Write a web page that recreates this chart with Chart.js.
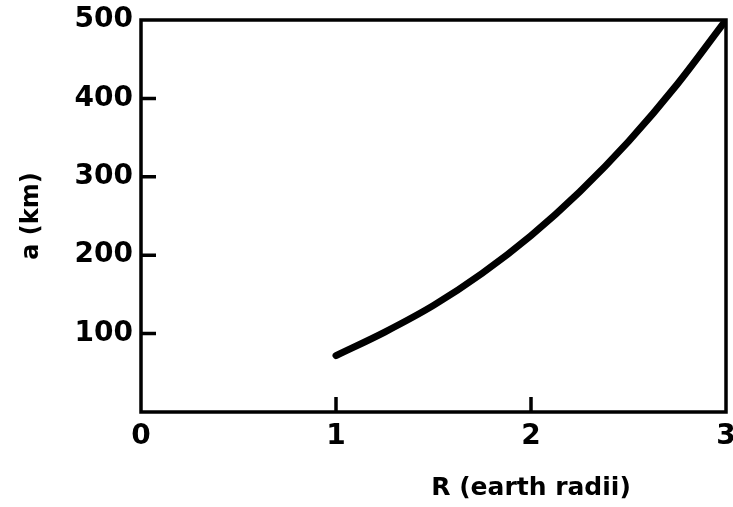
<!DOCTYPE html>
<html>
<head>
<meta charset="utf-8">
<title>a vs R</title>
<script src="https://cdn.jsdelivr.net/npm/chart.js@4/dist/chart.umd.min.js"></script>
<style>
  html, body { margin: 0; padding: 0; background: #fff; }
  #wrap { width: 733px; height: 507px; }
</style>
</head>
<body>
<div id="wrap"><canvas id="myChart"></canvas></div>
<script>
// curve read in earth radii against km
var radius = [1.0, 1.25, 1.5, 1.75, 2.0, 2.25, 2.5, 2.75, 3.0];
var sizeKm = [72, 102, 136, 177, 225, 281, 345, 418, 500];

var xTicks = [0, 1, 2, 3];
var yTicks = [0, 100, 200, 300, 400, 500];
var xTitle = 'R (earth radii)';
var yTitle = 'a (km)';

var ink = '#000';
var fontName = 'DejaVu Sans';

// box round the plot area, inward tick marks, x title under the "2"
var frame = {
    id: 'frame',
    beforeDatasetsDraw: function (chart) {
        var c = chart.ctx;
        var a = chart.chartArea;
        var x = chart.scales.x;
        var y = chart.scales.y;
        c.save();
        c.strokeStyle = ink;
        c.lineWidth = 3.5;
        c.strokeRect(a.left, a.top, a.right - a.left, a.bottom - a.top);
        c.beginPath();
        yTicks.slice(1, -1).forEach(function (v) {
            var py = y.getPixelForValue(v);
            c.moveTo(a.left, py);
            c.lineTo(a.left + 15, py);
        });
        xTicks.slice(1, -1).forEach(function (v) {
            var px = x.getPixelForValue(v);
            c.moveTo(px, a.bottom);
            c.lineTo(px, a.bottom - 15);
        });
        c.stroke();
        c.font = 'bold 25px "' + fontName + '"';
        c.fillStyle = ink;
        c.textAlign = 'center';
        c.textBaseline = 'middle';
        c.fillText(xTitle, x.getPixelForValue(2), 488);
        c.restore();
    }
};

var ctx = document.getElementById('myChart');
var myChart = new Chart(ctx, {
    type: 'line',
    data: {
        datasets: [{
            data: radius.map(function (r, i) { return { x: r, y: sizeKm[i] }; }),
            borderColor: ink,
            borderWidth: 7,
            borderCapStyle: 'round',
            pointRadius: 0,
            cubicInterpolationMode: 'monotone',
            fill: false
        }]
    },
    options: {
        responsive: true,
        maintainAspectRatio: false,
        animation: false,
        layout: { padding: { top: 20, right: 7, left: 0, bottom: 0 } },
        plugins: {
            legend: { display: false },
            tooltip: { enabled: false }
        },
        scales: {
            x: {
                type: 'linear',
                min: 0,
                max: 3,
                afterBuildTicks: function (s) {
                    s.ticks = xTicks.map(function (v) { return { value: v }; });
                },
                afterFit: function (s) {
                    s.height = 95;
                    s.paddingLeft = 0;
                    s.paddingRight = 0;
                },
                grid: { display: false, drawTicks: false },
                border: { display: false },
                ticks: {
                    color: ink,
                    padding: 8,
                    maxRotation: 0,
                    autoSkip: false,
                    font: { family: fontName, weight: 'bold', size: 28 }
                }
            },
            y: {
                min: 0,
                max: 500,
                afterBuildTicks: function (s) {
                    s.ticks = yTicks.map(function (v) { return { value: v }; });
                },
                afterFit: function (s) {
                    s.width = 141;
                    s.paddingTop = 0;
                    s.paddingBottom = 0;
                },
                grid: { display: false, drawTicks: false },
                border: { display: false },
                ticks: {
                    color: ink,
                    padding: 8,
                    autoSkip: false,
                    font: { family: fontName, weight: 'bold', size: 28 },
                    callback: function (v) { return v === 0 ? '' : v; }
                },
                title: {
                    display: true,
                    text: yTitle,
                    color: ink,
                    padding: { top: 17, bottom: 0 },
                    font: { family: fontName, weight: 'bold', size: 24 }
                }
            }
        }
    },
    plugins: [frame]
});
</script>
</body>
</html>
